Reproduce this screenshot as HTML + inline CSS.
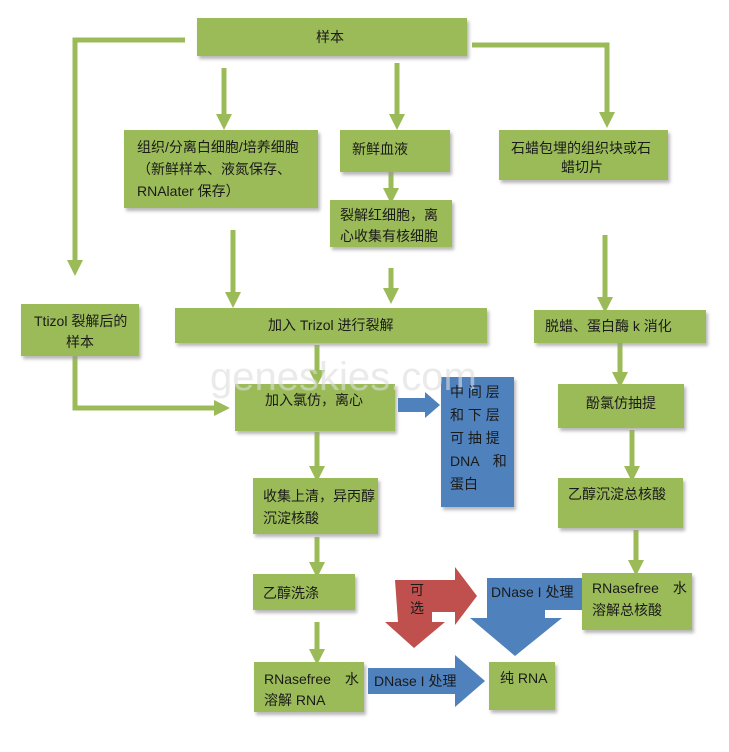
<!DOCTYPE html>
<html><head><meta charset="utf-8"><style>
body{margin:0;background:#fff;}
svg text{font-family:"Liberation Sans","Noto Sans CJK SC",sans-serif;font-size:14px;fill:#1a1a1a;}
</style></head><body>
<svg width="729" height="747" viewBox="0 0 729 747" xmlns="http://www.w3.org/2000/svg">
<defs>
<filter id="sh" x="-5%" y="-5%" width="115%" height="125%"><feDropShadow dx="2" dy="3" stdDeviation="1.5" flood-color="#999" flood-opacity="0.7"/></filter>
<marker id="ah" viewBox="0 0 10 10" refX="5" refY="5" markerWidth="3.2" markerHeight="3.2" orient="auto"><path d="M0,0 L10,5 L0,10 z" fill="#9bbb59"/></marker>
</defs>
<g stroke="#9bbb59" stroke-width="5" fill="none" marker-end="url(#ah)">
<polyline points="185,40 75,40 75,268"/>
<polyline points="472,45 607,45 607,120"/>
<line x1="224" y1="68" x2="224" y2="122"/>
<line x1="397" y1="63" x2="397" y2="122"/>
<line x1="391" y1="172" x2="391" y2="196"/>
<line x1="233" y1="230" x2="233" y2="300"/>
<line x1="391" y1="268" x2="391" y2="296"/>
<line x1="605" y1="235" x2="605" y2="305"/>
<line x1="317" y1="345" x2="317" y2="378"/>
<line x1="620" y1="342" x2="620" y2="380"/>
<polyline points="75,355 75,408 222,408"/>
<line x1="317" y1="432" x2="317" y2="474"/>
<line x1="632" y1="430" x2="632" y2="474"/>
<line x1="317" y1="537" x2="317" y2="570"/>
<line x1="636" y1="530" x2="636" y2="568"/>
<line x1="317" y1="622" x2="317" y2="657"/>
</g>
<g fill="#9bbb59" filter="url(#sh)">
<rect x="197" y="18" width="270" height="38"/>
<rect x="124" y="130" width="194" height="78"/>
<rect x="340" y="130" width="110" height="42"/>
<rect x="330" y="200" width="122" height="47"/>
<rect x="499" y="130" width="169" height="50"/>
<rect x="21" y="304" width="118" height="52"/>
<rect x="175" y="308" width="312" height="35"/>
<rect x="534" y="310" width="172" height="33"/>
<rect x="235" y="384" width="160" height="47"/>
<rect x="558" y="384" width="126" height="44"/>
<rect x="253" y="478" width="125" height="56"/>
<rect x="558" y="478" width="125" height="50"/>
<rect x="253" y="574" width="102" height="36"/>
<rect x="582" y="573" width="110" height="57"/>
<rect x="254" y="662" width="110" height="50"/>
<rect x="489" y="662" width="66" height="48"/>
</g>
<rect x="441" y="377" width="73" height="130" fill="#4f81bd" filter="url(#sh)"/>
<polygon points="398,398 425,398 425,392 440,405 425,418 425,412 398,412" fill="#4f81bd"/>
<polygon points="368,668 455,668 455,655 485,681 455,707 455,694 368,694" fill="#4f81bd"/>
<polygon points="487,578 582,578 582,610 545,610 545,618 562,618 515,656 470,618 487,618" fill="#4f81bd"/>
<polygon points="395,580 455,580 455,567 477,596 455,625 455,612 432,612 432,622 445,622 414,648 385,622 398,622" fill="#c0504d"/>
<text x="210" y="390" style="font-size:40px;fill:#ddd;opacity:0.6">geneskies.com</text>
<text x="316" y="42">样本</text>
<text x="137" y="152">组织/分离白细胞/培养细胞</text>
<text x="137" y="174">（新鲜样本、液氮保存、</text>
<text x="137" y="196">RNAlater 保存）</text>
<text x="352" y="154">新鲜血液</text>
<text x="340" y="220">裂解红细胞，离</text>
<text x="340" y="241">心收集有核细胞</text>
<text x="511" y="153">石蜡包埋的组织块或石</text>
<text x="561" y="172">蜡切片</text>
<text x="34" y="326">Ttizol 裂解后的</text>
<text x="66" y="347">样本</text>
<text x="268" y="330">加入 Trizol 进行裂解</text>
<text x="545" y="331">脱蜡、蛋白酶 k 消化</text>
<text x="265" y="405">加入氯仿，离心</text>
<text x="586" y="408">酚氯仿抽提</text>
<text x="450" y="397">中 间 层</text>
<text x="450" y="420">和 下 层</text>
<text x="450" y="443">可 抽 提</text>
<text x="450" y="466">DNA　和</text>
<text x="450" y="489">蛋白</text>
<text x="263" y="501">收集上清，异丙醇</text>
<text x="263" y="523">沉淀核酸</text>
<text x="568" y="499">乙醇沉淀总核酸</text>
<text x="263" y="598">乙醇洗涤</text>
<text x="592" y="593">RNasefree　水</text>
<text x="592" y="615">溶解总核酸</text>
<text x="264" y="684">RNasefree　水</text>
<text x="264" y="705">溶解 RNA</text>
<text x="500" y="683">纯 RNA</text>
<text x="374" y="686">DNase I 处理</text>
<text x="491" y="597">DNase I 处理</text>
<text x="410" y="595">可</text>
<text x="410" y="613">选</text>
</svg>
</body></html>
